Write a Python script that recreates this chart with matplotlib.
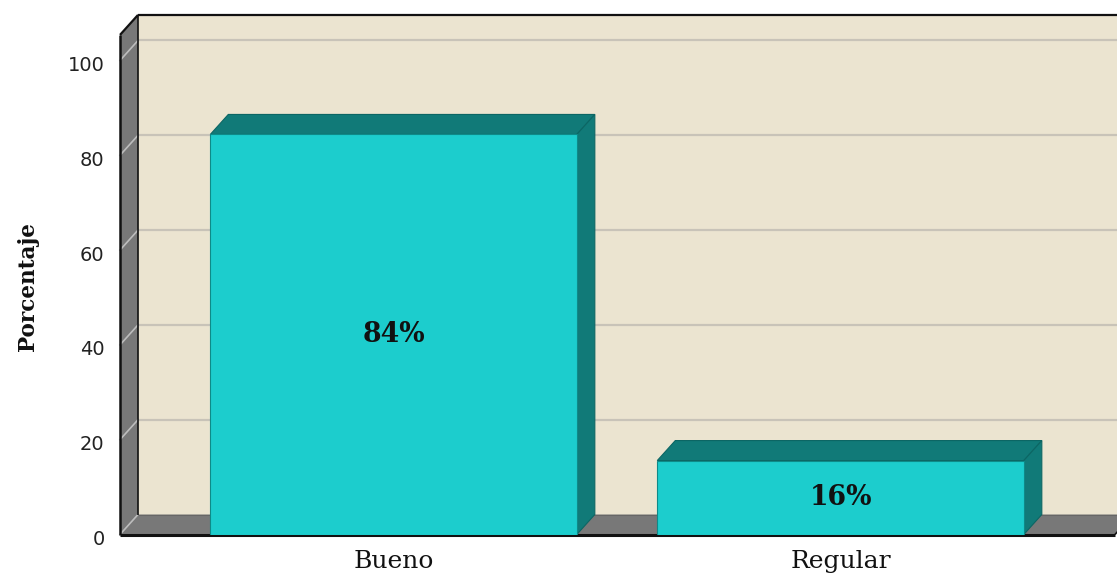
import numpy as np
import matplotlib
matplotlib.use('Agg')
import matplotlib.pyplot as plt
from matplotlib.patches import Polygon
from matplotlib.transforms import ScaledTranslation

# data
categorias = ['Bueno', 'Regular']
porcentajes = [84.4, 15.6]
etiquetas = ['84%', '16%']
yticks = [0, 20, 40, 60, 80, 100]

# colours
c_front = '#1CCDCD'
c_side = '#117A78'
c_wall = '#787878'
c_back = '#EBE4D0'
c_grid = '#C8C3B8'

fig = plt.figure(figsize=(11.17, 5.75), dpi=100)
ax = fig.add_axes([120/1117, 40.5/575, 995/1117, 499.6/575])
x0, x1 = -0.612, 1.614
ytop = 105.4
ax.set_xlim(x0, x1)
ax.set_ylim(0, ytop)

# depth of the 3d box, 18 px right and 20 px up
ddx = 18 * (x1 - x0) / 995
ddy = 20 * ytop / 499.6

# back wall
ax.add_patch(Polygon([(x0+ddx, ddy), (x1+ddx, ddy), (x1+ddx, ytop+ddy), (x0+ddx, ytop+ddy)],
                     closed=True, fc=c_back, ec='none', clip_on=False, zorder=0))
# left wall
ax.add_patch(Polygon([(x0, 0), (x0+ddx, ddy), (x0+ddx, ytop+ddy), (x0, ytop)],
                     closed=True, fc=c_wall, ec='none', clip_on=False, zorder=1))
# floor
ax.add_patch(Polygon([(x0, 0), (x1, 0), (x1+ddx, ddy), (x0+ddx, ddy)],
                     closed=True, fc=c_wall, ec='none', clip_on=False, zorder=1))

# gridlines
for v in yticks:
    if v > 0:
        ax.plot([x0+ddx, x1+ddx], [v+ddy, v+ddy], color=c_grid, lw=1.6, clip_on=False, zorder=0.5)
    ax.plot([x0, x0+ddx], [v, v+ddy], color='#BDBDBD', lw=1.2, clip_on=False, zorder=1.5)

# edges of the box
k = dict(color='#111111', clip_on=False, zorder=2, solid_capstyle='butt')
ax.plot([x0+ddx, x0+ddx], [ddy, ytop+ddy], lw=1.2, **k)
ax.plot([x0+ddx, x1+ddx], [ytop+ddy, ytop+ddy], lw=1.6, **k)
ax.plot([x0, x0+ddx], [ytop, ytop+ddy], lw=1.6, **k)
ax.plot([x0, x0], [0, ytop], lw=1.8, **k)
ax.plot([x0, x1], [0, 0], lw=2.2, **k)
ax.plot([x1, x1+ddx], [0, ddy], lw=1.2, **k)
ax.plot([x0+ddx, x1+ddx], [ddy, ddy], color='#666666', lw=0.8, clip_on=False, zorder=1.2)

# bars
w = 0.82
xs = np.arange(len(categorias))
bars = ax.bar(xs, porcentajes, width=w, color=c_front, edgecolor='#0E8A88', lw=0.8, zorder=4)
for b, h, lab in zip(bars, porcentajes, etiquetas):
    l = b.get_x()
    r = l + b.get_width()
    ax.add_patch(Polygon([(l, h), (r, h), (r+ddx, h+ddy), (l+ddx, h+ddy)], closed=True,
                         fc=c_side, ec='#0C6664', lw=0.8, zorder=3, clip_on=False))
    ax.add_patch(Polygon([(r, 0), (r+ddx, ddy), (r+ddx, h+ddy), (r, h)], closed=True,
                         fc=c_side, ec='#0C6664', lw=0.8, zorder=3, clip_on=False))
    ax.text(b.get_x() + b.get_width()/2, h/2, lab, ha='center', va='center',
            family='DejaVu Serif', fontweight='bold', fontsize=19.3, color='#111111', zorder=5)

for s in ax.spines.values():
    s.set_visible(False)
ax.set_xticks(xs)
ax.set_xticklabels(categorias, family='DejaVu Serif', fontsize=18, color='#111111')
ax.set_yticks(yticks)
ax.set_yticklabels([str(v) for v in yticks], family='DejaVu Sans', fontsize=14, color='#222222')
ax.tick_params(axis='both', length=0)
ax.tick_params(axis='y', pad=11)
ax.tick_params(axis='x', pad=11)
off = ScaledTranslation(0, -3/100, fig.dpi_scale_trans)
for t in ax.get_yticklabels():
    t.set_transform(t.get_transform() + off)

ax.set_ylabel('Porcentaje', family='DejaVu Serif', fontweight='bold', fontsize=15.5,
              color='#111111', va='center')
ax.yaxis.set_label_coords(-0.0925, 0.497)

fig.savefig('out.png', dpi=100)
